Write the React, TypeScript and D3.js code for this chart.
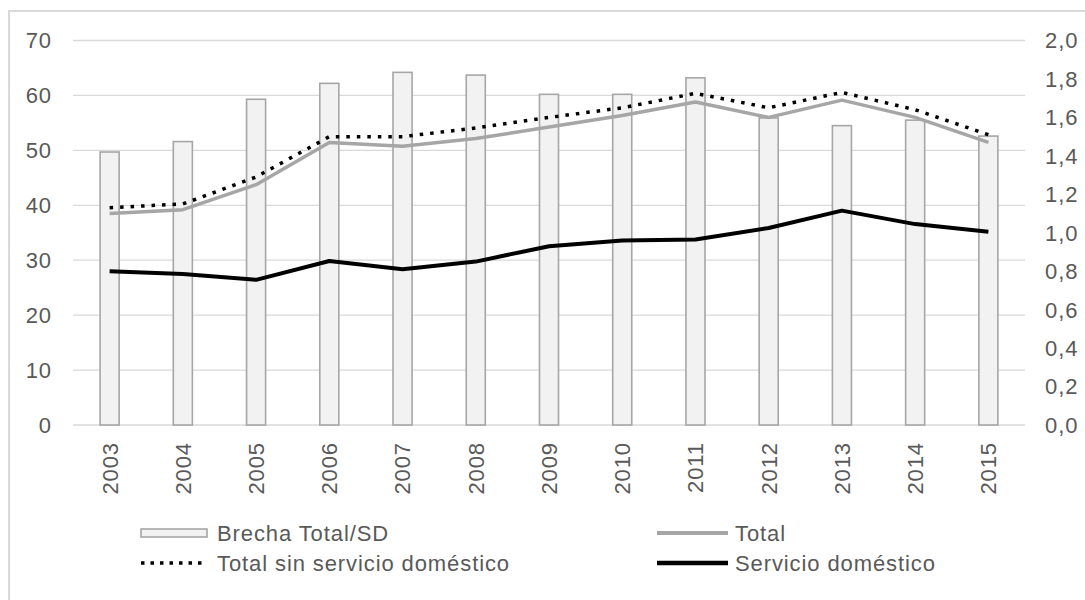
import React from "react";
import * as d3 from "d3";

const years = ["2003", "2004", "2005", "2006", "2007", "2008", "2009", "2010", "2011", "2012", "2013", "2014", "2015"];
// Brecha Total/SD (left axis)
const brecha = [49.7, 51.6, 59.3, 62.2, 64.2, 63.7, 60.2, 60.2, 63.2, 55.9, 54.5, 55.5, 52.6];
// right axis series
const total = [1.1, 1.12, 1.25, 1.47, 1.45, 1.49, 1.55, 1.61, 1.68, 1.6, 1.69, 1.6, 1.47];
const totalSinSD = [1.13, 1.15, 1.29, 1.5, 1.5, 1.545, 1.6, 1.65, 1.725, 1.65, 1.73, 1.64, 1.51];
const servDom = [0.8, 0.785, 0.755, 0.853, 0.81, 0.85, 0.93, 0.96, 0.965, 1.025, 1.115, 1.045, 1.005];

const leftTicks = [0, 10, 20, 30, 40, 50, 60, 70];
const rightTicks = [0, 0.2, 0.4, 0.6, 0.8, 1.0, 1.2, 1.4, 1.6, 1.8, 2.0];

const W = 1085;
const H = 600;
const font = "'Liberation Sans', Arial, sans-serif";
const txt = "#595959";

export default function App() {
  const x = d3.scaleBand().domain(years).range([73, 1025]).paddingInner(0.74).paddingOuter(0.37);
  const yL = d3.scaleLinear().domain([0, 70]).range([425, 40.5]);
  const yR = d3.scaleLinear().domain([0, 2]).range([425, 40.5]);
  const cx = (i: number) => (x(years[i]) as number) + x.bandwidth() / 2;

  const line = (vals: number[]) =>
    d3.line<number>().x((_, i) => cx(i)).y((d) => yR(d))(vals) as string;

  const fmt = (v: number) => v.toFixed(1).replace(".", ",");
  const textStyle = { fontFamily: font, fontSize: 22, letterSpacing: 0.9, fill: txt };

  return (
    <svg width={W} height={H} style={{ position: "absolute", left: 0, top: 0, background: "#fff" }}>
      <rect x={9} y={11} width={1200} height={700} fill="#fff" stroke="#d9d9d9" strokeWidth={2} />

      {leftTicks.map((t) => (
        <g key={t}>
          <line x1={73} x2={1025} y1={yL(t)} y2={yL(t)} stroke="#d9d9d9" strokeWidth={1.3} />
          <text x={52} y={yL(t)} dy="0.36em" textAnchor="end" style={textStyle}>
            {t}
          </text>
        </g>
      ))}
      {rightTicks.map((t) => (
        <text key={t} x={1045} y={yR(t)} dy="0.36em" textAnchor="start" style={textStyle}>
          {fmt(t)}
        </text>
      ))}

      {brecha.map((v, i) => (
        <rect
          key={i}
          x={x(years[i])}
          y={yL(v)}
          width={x.bandwidth()}
          height={yL(0) - yL(v)}
          fill="#f2f2f2"
          stroke="#a6a6a6"
          strokeWidth={1.6}
        />
      ))}

      <path d={line(total)} fill="none" stroke="#a6a6a6" strokeWidth={3.5} strokeLinejoin="round" />
      <path d={line(totalSinSD)} fill="none" stroke="#000" strokeWidth={3.5} strokeDasharray="3.5 7" />
      <path d={line(servDom)} fill="none" stroke="#000" strokeWidth={4} strokeLinejoin="round" />

      {years.map((yr, i) => (
        <text
          key={yr}
          transform={`translate(${cx(i)},442) rotate(-90)`}
          dy="0.36em"
          textAnchor="end"
          style={textStyle}
        >
          {yr}
        </text>
      ))}

      {/* legend */}
      <rect x={141} y={529} width={66} height={8} fill="#f2f2f2" stroke="#a6a6a6" strokeWidth={1.6} />
      <text x={217} y={533} dy="0.36em" style={textStyle}>Brecha Total/SD</text>
      <line x1={141} x2={207} y1={563} y2={563} stroke="#000" strokeWidth={3.5} strokeDasharray="3.5 6" />
      <text x={217} y={563} dy="0.36em" style={textStyle}>Total sin servicio doméstico</text>
      <line x1={657} x2={728} y1={533} y2={533} stroke="#a6a6a6" strokeWidth={4} />
      <text x={735} y={533} dy="0.36em" style={textStyle}>Total</text>
      <line x1={657} x2={728} y1={563} y2={563} stroke="#000" strokeWidth={4.5} />
      <text x={735} y={563} dy="0.36em" style={textStyle}>Servicio doméstico</text>
    </svg>
  );
}
